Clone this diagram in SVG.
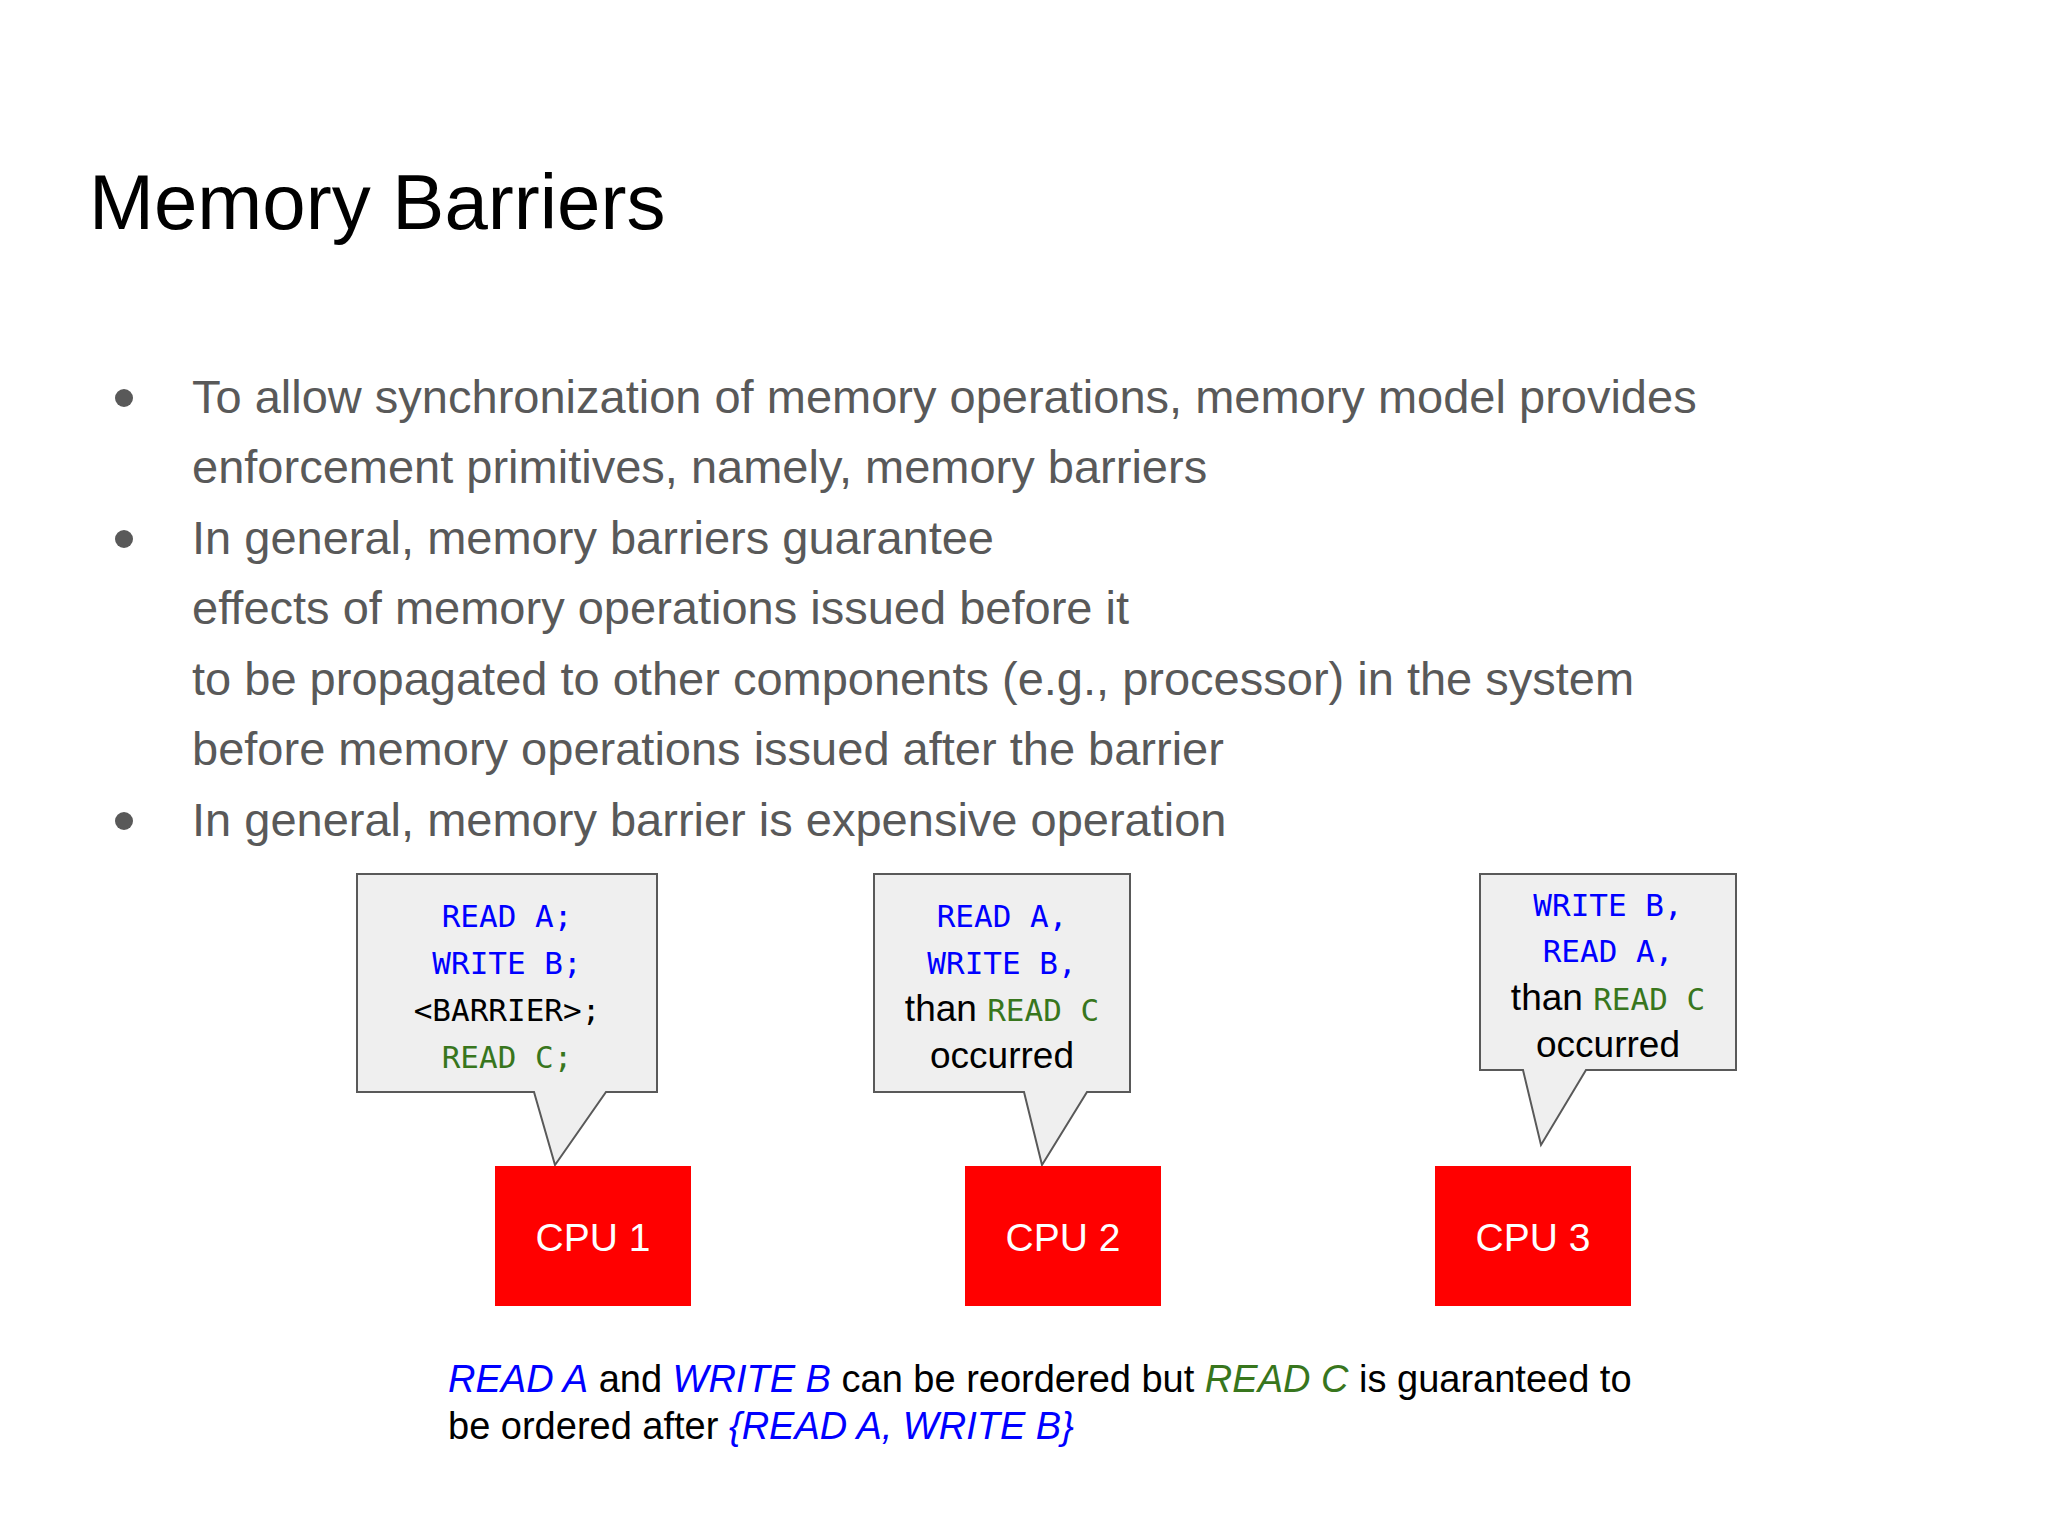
<svg xmlns="http://www.w3.org/2000/svg" width="2048" height="1536" viewBox="0 0 2048 1536">
<style>
.b{font-family:"Liberation Sans",Arial,sans-serif;font-size:47px;fill:#595959}
.m{font-family:"DejaVu Sans Mono","Liberation Mono",monospace;font-size:31px;text-anchor:middle}
.s{font-family:"Liberation Sans",Arial,sans-serif;font-size:37px}
.bl{fill:#0000ff}.gr{fill:#38761d}.k{fill:#000}
.bub{fill:#efefef;stroke:#595959;stroke-width:2}
.cpu{fill:#ff0000}
.ct{font-family:"Liberation Sans",Arial,sans-serif;font-size:39px;fill:#fff;text-anchor:middle}
.f{font-family:"Liberation Sans",Arial,sans-serif;font-size:38px;fill:#000}
</style>
<rect width="2048" height="1536" fill="#fff"/>
<text x="89" y="229" font-family="Liberation Sans,Arial,sans-serif" font-size="78" fill="#000">Memory Barriers</text>
<g>
<circle cx="124" cy="398" r="9" fill="#595959"/><circle cx="124" cy="539" r="9" fill="#595959"/><circle cx="124" cy="821" r="9" fill="#595959"/>
<text class="b" x="192" y="413">To allow synchronization of memory operations, memory model provides</text>
<text class="b" x="192" y="483">enforcement primitives, namely, memory barriers</text>
<text class="b" x="192" y="554">In general, memory barriers guarantee</text>
<text class="b" x="192" y="624">effects of memory operations issued before it</text>
<text class="b" x="192" y="695">to be propagated to other components (e.g., processor) in the system</text>
<text class="b" x="192" y="765">before memory operations issued after the barrier</text>
<text class="b" x="192" y="836">In general, memory barrier is expensive operation</text>
</g>
<g id="bubble1">
<path class="bub" d="M357,874 H657 V1092 H606 L555,1165 L534,1092 H357 Z"/>
<text class="m bl" x="507" y="927">READ A;</text>
<text class="m bl" x="507" y="974">WRITE B;</text>
<text class="m k" x="507" y="1021">&lt;BARRIER&gt;;</text>
<text class="m gr" x="507" y="1068">READ C;</text>
</g>
<g id="bubble2">
<path class="bub" d="M874,874 H1130 V1092 H1087 L1042,1165 L1024,1092 H874 Z"/>
<text class="m bl" x="1002" y="927">READ A,</text>
<text class="m bl" x="1002" y="974">WRITE B,</text>
<text class="m" x="1002" y="1021"><tspan class="s k">than </tspan><tspan class="gr">READ C</tspan></text>
<text class="s k" x="1002" y="1068" text-anchor="middle">occurred</text>
</g>
<g id="bubble3">
<path class="bub" d="M1480,874 H1736 V1070 H1586 L1541,1145 L1523,1070 H1480 Z"/>
<text class="m bl" x="1608" y="916">WRITE B,</text>
<text class="m bl" x="1608" y="962">READ A,</text>
<text class="m" x="1608" y="1010"><tspan class="s k">than </tspan><tspan class="gr">READ C</tspan></text>
<text class="s k" x="1608" y="1057" text-anchor="middle">occurred</text>
</g>
<g id="cpu1"><rect class="cpu" x="495" y="1166" width="196" height="140"/><text class="ct" x="593" y="1251">CPU 1</text></g>
<g id="cpu2"><rect class="cpu" x="965" y="1166" width="196" height="140"/><text class="ct" x="1063" y="1251">CPU 2</text></g>
<g id="cpu3"><rect class="cpu" x="1435" y="1166" width="196" height="140"/><text class="ct" x="1533" y="1251">CPU 3</text></g>
<g id="connectors"/>
<text class="f" x="448" y="1392"><tspan class="bl" font-style="italic">READ A</tspan> and <tspan class="bl" font-style="italic">WRITE B</tspan> can be reordered but <tspan class="gr" font-style="italic">READ C</tspan> is guaranteed to</text>
<text class="f" x="448" y="1439">be ordered after <tspan class="bl" font-style="italic">{READ A, WRITE B}</tspan></text>
</svg>
